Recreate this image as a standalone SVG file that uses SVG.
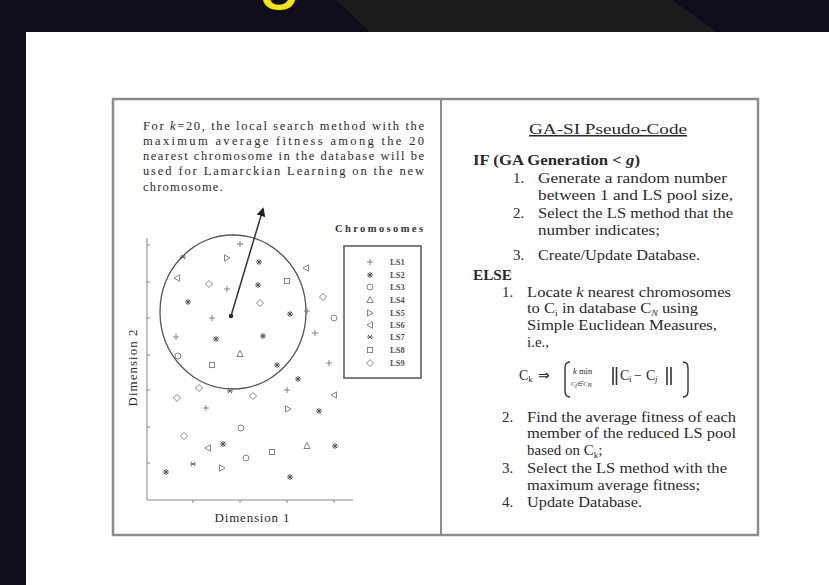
<svg xmlns="http://www.w3.org/2000/svg" width="829" height="585" viewBox="0 0 829 585">
<style>
.t{font-family:"Liberation Serif","Times New Roman",serif;fill:#2a2a2a}
.l{font-size:12.5px}
.r{font-size:15px}
.b{font-weight:bold}
.lg{font-size:8.5px;font-family:"Liberation Serif","Times New Roman",serif;fill:#555;font-weight:bold}
.sym{fill:none;stroke:#777;stroke-width:0.9}
.ax{stroke:#888;stroke-width:1;fill:none}
</style>
<defs>
<path id="s1" class="sym" d="M-3,0H3M0,-3V3"/>
<path id="s2" d="M-3,0H3M0,-3V3M-2.2,-2.2L2.2,2.2M-2.2,2.2L2.2,-2.2" stroke="#555" stroke-width="1"/>
<circle id="s3" class="sym" r="3"/>
<path id="s4" class="sym" d="M0,-3.5L3.2,2.5H-3.2Z"/>
<path id="s5" class="sym" d="M-2.5,-3.2L3,0L-2.5,3.2Z"/>
<path id="s6" class="sym" d="M2.5,-3.2L-3,0L2.5,3.2Z"/>
<path id="s7" d="M-3,0H3M-2.2,-2.2L2.2,2.2M-2.2,2.2L2.2,-2.2" stroke="#666" stroke-width="1"/>
<rect id="s8" class="sym" x="-2.6" y="-2.6" width="5.2" height="5.2"/>
<path id="s9" class="sym" d="M0,-3.5L3.5,0L0,3.5L-3.5,0Z"/>
<marker id="ah" viewBox="0 0 10 10" refX="8" refY="5" markerWidth="6" markerHeight="6" orient="auto">
<path d="M0,0L10,5L0,10Z" fill="#222"/>
</marker>
</defs>

<rect width="829" height="585" fill="#ffffff"/>
<rect width="829" height="32" fill="#100d1a"/>
<rect width="26" height="585" fill="#100d1a"/>
<polygon points="336,0 672,0 717,32 370,32" fill="#1b1b1b"/>
<text x="258" y="-6" font-family="Liberation Sans,Arial,sans-serif" font-size="78" fill="#f5e600">g</text>

<g id="frame">
<rect x="113" y="99" width="645" height="436" fill="none" stroke="#8c8c8c" stroke-width="2.5"/>
<line x1="441" y1="99" x2="441" y2="535" stroke="#8c8c8c" stroke-width="2"/>
</g>

<g id="caption" class="t l">
<text x="143" y="130" textLength="281" lengthAdjust="spacing">For <tspan font-style="italic">k</tspan>=20, the local search method with the</text>
<text x="143" y="145" textLength="281" lengthAdjust="spacing">maximum average fitness among the 20</text>
<text x="143" y="160" textLength="281" lengthAdjust="spacing">nearest chromosome in the database will be</text>
<text x="143" y="175" textLength="281" lengthAdjust="spacing">used for Lamarckian Learning on the new</text>
<text x="143" y="191" letter-spacing="1.2">chromosome.</text>
</g>

<g id="plot">
<path class="ax" d="M147,238V500H353"/>
<path class="ax" d="M147,245h3M147,282h3M147,318h3M147,355h3M147,390h3M147,427h3M147,463h3M193,500v3M240,500v3M287,500v3M334,500v3"/>
<text class="t" x="252" y="522" font-size="13" text-anchor="middle" textLength="75" lengthAdjust="spacing">Dimension 1</text>
<text class="t" transform="translate(137,368) rotate(-90)" font-size="13" text-anchor="middle" textLength="77" lengthAdjust="spacing">Dimension 2</text>
<ellipse cx="233" cy="312" rx="73" ry="77" fill="none" stroke="#555" stroke-width="1.3"/>
<g id="points">
<use href="#s1" x="240" y="244"/>
<use href="#s7" x="183" y="257"/>
<use href="#s5" x="227" y="258"/>
<use href="#s2" x="259" y="262"/>
<use href="#s6" x="306" y="268"/>
<use href="#s6" x="177" y="278"/>
<use href="#s9" x="209" y="284"/>
<use href="#s1" x="227" y="289"/>
<use href="#s2" x="258" y="285"/>
<use href="#s8" x="287" y="281"/>
<use href="#s9" x="323" y="297"/>
<use href="#s2" x="188" y="302"/>
<use href="#s9" x="260" y="303"/>
<use href="#s2" x="290" y="314"/>
<use href="#s1" x="307" y="311"/>
<use href="#s3" x="334" y="318"/>
<use href="#s1" x="212" y="318"/>
<use href="#s1" x="176" y="337"/>
<use href="#s2" x="216" y="339"/>
<use href="#s2" x="263" y="336"/>
<use href="#s1" x="315" y="333"/>
<use href="#s3" x="178" y="356"/>
<use href="#s4" x="240" y="354"/>
<use href="#s8" x="212" y="365"/>
<use href="#s2" x="277" y="365"/>
<use href="#s1" x="329" y="363"/>
<use href="#s2" x="298" y="379"/>
<use href="#s9" x="199" y="388"/>
<use href="#s7" x="230" y="391"/>
<use href="#s9" x="253" y="396"/>
<use href="#s1" x="287" y="390"/>
<use href="#s6" x="334" y="395"/>
<use href="#s9" x="177" y="398"/>
<use href="#s1" x="206" y="408"/>
<use href="#s5" x="288" y="409"/>
<use href="#s2" x="319" y="411"/>
<use href="#s3" x="241" y="428"/>
<use href="#s9" x="184" y="436"/>
<use href="#s6" x="208" y="448"/>
<use href="#s2" x="223" y="444"/>
<use href="#s8" x="272" y="452"/>
<use href="#s4" x="307" y="446"/>
<use href="#s2" x="335" y="446"/>
<use href="#s3" x="246" y="458"/>
<use href="#s7" x="193" y="464"/>
<use href="#s5" x="222" y="468"/>
<use href="#s2" x="166" y="472"/>
<use href="#s2" x="290" y="477"/>
</g>
<circle cx="231" cy="316" r="2.2" fill="#222"/>
<line x1="231" y1="316" x2="263" y2="209" stroke="#333" stroke-width="1.5" marker-end="url(#ah)"/>
</g>

<g id="legend">
<text x="335" y="232" font-family="Liberation Serif,serif" font-size="10.5" font-weight="bold" fill="#333" textLength="88" lengthAdjust="spacing">Chromosomes</text>
<rect x="344" y="246" width="77" height="132" fill="none" stroke="#555" stroke-width="1.5"/>
<use href="#s1" x="370" y="262"/><text class="lg" x="390" y="265">LS1</text>
<use href="#s2" x="370" y="275"/><text class="lg" x="390" y="278">LS2</text>
<use href="#s3" x="370" y="287"/><text class="lg" x="390" y="290">LS3</text>
<use href="#s4" x="370" y="300"/><text class="lg" x="390" y="303">LS4</text>
<use href="#s5" x="370" y="313"/><text class="lg" x="390" y="316">LS5</text>
<use href="#s6" x="370" y="325"/><text class="lg" x="390" y="328">LS6</text>
<use href="#s7" x="370" y="337"/><text class="lg" x="390" y="340">LS7</text>
<use href="#s8" x="370" y="350"/><text class="lg" x="390" y="353">LS8</text>
<use href="#s9" x="370" y="363"/><text class="lg" x="390" y="366">LS9</text>
</g>

<g id="pseudocode" class="t r">
<text x="529" y="134" textLength="158" lengthAdjust="spacingAndGlyphs" text-decoration="underline">GA-SI Pseudo-Code</text>
<text class="b" x="473" y="165" textLength="167" lengthAdjust="spacingAndGlyphs">IF (GA Generation &lt; <tspan font-style="italic">g</tspan>)</text>
<text x="513" y="183">1.</text>
<text x="538" y="183" textLength="189" lengthAdjust="spacingAndGlyphs">Generate a random number</text>
<text x="538" y="200" textLength="195" lengthAdjust="spacingAndGlyphs">between 1 and LS pool size,</text>
<text x="513" y="218">2.</text>
<text x="538" y="218" textLength="195" lengthAdjust="spacingAndGlyphs">Select the LS method that the</text>
<text x="538" y="235" textLength="122" lengthAdjust="spacingAndGlyphs">number indicates;</text>
<text x="513" y="260">3.</text>
<text x="538" y="260" textLength="162" lengthAdjust="spacingAndGlyphs">Create/Update Database.</text>
<text class="b" x="473" y="280" textLength="39" lengthAdjust="spacingAndGlyphs">ELSE</text>
<text x="502" y="297">1.</text>
<text x="527" y="297" textLength="204" lengthAdjust="spacingAndGlyphs">Locate <tspan font-style="italic">k</tspan> nearest chromosomes</text>
<text x="527" y="313" textLength="171" lengthAdjust="spacingAndGlyphs">to C<tspan font-size="9" dy="3">i</tspan><tspan dy="-3"> in database C</tspan><tspan font-size="9" dy="3" font-style="italic">N</tspan><tspan dy="-3"> using</tspan></text>
<text x="527" y="330" textLength="190" lengthAdjust="spacingAndGlyphs">Simple Euclidean Measures,</text>
<text x="527" y="347">i.e.,</text>
<text x="502" y="422">2.</text>
<text x="527" y="422" textLength="209" lengthAdjust="spacingAndGlyphs">Find the average fitness of each</text>
<text x="527" y="438" textLength="209" lengthAdjust="spacingAndGlyphs">member of the reduced LS pool</text>
<text x="527" y="455">based on C<tspan font-size="9" dy="3">k</tspan><tspan dy="-3">;</tspan></text>
<text x="502" y="473">3.</text>
<text x="527" y="473" textLength="200" lengthAdjust="spacingAndGlyphs">Select the LS method with the</text>
<text x="527" y="490" textLength="173" lengthAdjust="spacingAndGlyphs">maximum average fitness;</text>
<text x="502" y="507">4.</text>
<text x="527" y="507" textLength="115" lengthAdjust="spacingAndGlyphs">Update Database.</text>
</g>

<g id="formula" class="t">
<text x="519" y="380" font-size="14">C<tspan font-size="9" dy="2">k</tspan></text>
<text x="538" y="380" font-size="14">⇒</text>
<path d="M570,362Q565,362 565,368V391Q565,397 570,397" fill="none" stroke="#333" stroke-width="1.4"/>
<path d="M683,362Q688,362 688,368V391Q688,397 683,397" fill="none" stroke="#333" stroke-width="1.4"/>
<text x="573" y="374" font-size="8.5"><tspan font-style="italic">k</tspan> min</text>
<text x="571" y="386" font-size="6.5" font-style="italic">C<tspan dy="1">j</tspan><tspan dy="-1">∈C</tspan><tspan dy="1">N</tspan></text>
<path d="M613,367V385M616.5,367V385M667,367V385M671,367V385" stroke="#333" stroke-width="1.6"/>
<text y="380" font-size="14"><tspan x="620">C</tspan><tspan x="629" dy="2" font-size="9">i</tspan><tspan x="634" dy="-2">−</tspan><tspan x="646">C</tspan><tspan x="655" dy="2" font-size="9" font-style="italic">j</tspan></text>
</g>
</svg>
